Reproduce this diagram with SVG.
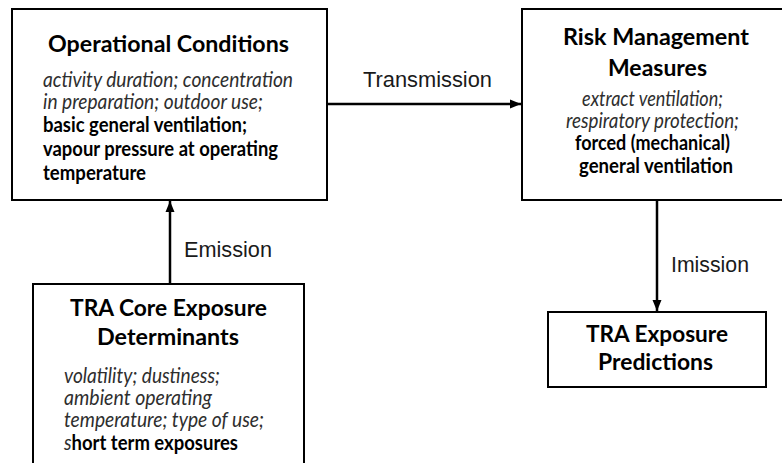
<svg xmlns="http://www.w3.org/2000/svg" width="782" height="463" viewBox="0 0 782 463">
<style>
.box{fill:#fff;stroke:#000;stroke-width:2}
.title{font-family:Lato,"Open Sans","Liberation Sans",sans-serif;font-weight:bold;font-size:23px;fill:#000}
.it{font-family:Lato,"Open Sans","Liberation Sans",sans-serif;font-style:italic;font-size:20.5px;fill:#2e2e2e}
.bd{font-family:Lato,"Open Sans","Liberation Sans",sans-serif;font-weight:bold;font-size:20px;fill:#000}
.lbl{font-family:"Liberation Sans",Arial,sans-serif;font-size:21.5px;fill:#1a1a1a}
.conn{stroke:#000;stroke-width:2.5;fill:none}
</style>
<defs>
<marker id="arr" markerUnits="userSpaceOnUse" markerWidth="12" markerHeight="12" viewBox="0 0 12 12" refX="11" refY="6" orient="auto">
<path d="M0,1.5 L11,6 L0,10.5 Z" fill="#000"/>
</marker>
</defs>
<rect width="782" height="463" fill="#fff"/>
<g id="connectors">
<line class="conn" x1="328" y1="104" x2="521" y2="104" marker-end="url(#arr)"/>
<line class="conn" x1="170" y1="284" x2="170" y2="201" marker-end="url(#arr)"/>
<line class="conn" x1="657" y1="200" x2="657" y2="311" marker-end="url(#arr)"/>
<text class="lbl" x="363" y="87" textLength="129" lengthAdjust="spacingAndGlyphs">Transmission</text>
<text class="lbl" x="184" y="257" textLength="88" lengthAdjust="spacingAndGlyphs">Emission</text>
<text class="lbl" x="671" y="272" textLength="78" lengthAdjust="spacingAndGlyphs">Imission</text>
</g>
<g id="operational-conditions">
<rect class="box" x="12" y="9" width="315" height="191"/>
<text class="title" x="48" y="52" textLength="241" lengthAdjust="spacingAndGlyphs">Operational Conditions</text>
<text class="it" x="43" y="87" textLength="250" lengthAdjust="spacingAndGlyphs">activity duration; concentration</text>
<text class="it" x="43" y="109" textLength="220" lengthAdjust="spacingAndGlyphs">in preparation; outdoor use;</text>
<text class="bd" x="43" y="132" textLength="204" lengthAdjust="spacingAndGlyphs">basic general ventilation;</text>
<text class="bd" x="43" y="156" textLength="235" lengthAdjust="spacingAndGlyphs">vapour pressure at operating</text>
<text class="bd" x="43" y="180" textLength="103" lengthAdjust="spacingAndGlyphs">temperature</text>
</g>
<g id="risk-management-measures">
<rect class="box" x="522" y="9" width="270" height="191"/>
<text class="title" x="563" y="45" textLength="186" lengthAdjust="spacingAndGlyphs">Risk Management</text>
<text class="title" x="608" y="76" textLength="99" lengthAdjust="spacingAndGlyphs">Measures</text>
<text class="it" x="582" y="106" textLength="141" lengthAdjust="spacingAndGlyphs">extract ventilation;</text>
<text class="it" x="566" y="128" textLength="173" lengthAdjust="spacingAndGlyphs">respiratory protection;</text>
<text class="bd" x="575" y="150" textLength="155" lengthAdjust="spacingAndGlyphs">forced (mechanical)</text>
<text class="bd" x="579" y="173" textLength="154" lengthAdjust="spacingAndGlyphs">general ventilation</text>
</g>
<g id="tra-core-exposure-determinants">
<rect class="box" x="33" y="284" width="271" height="200"/>
<text class="title" x="70" y="316" textLength="197" lengthAdjust="spacingAndGlyphs">TRA Core Exposure</text>
<text class="title" x="97" y="345" textLength="142" lengthAdjust="spacingAndGlyphs">Determinants</text>
<text class="it" x="64" y="383" textLength="156" lengthAdjust="spacingAndGlyphs">volatility; dustiness;</text>
<text class="it" x="64" y="405" textLength="148" lengthAdjust="spacingAndGlyphs">ambient operating</text>
<text class="it" x="64" y="427" textLength="200" lengthAdjust="spacingAndGlyphs">temperature; type of use;</text>
<text x="64" y="450" textLength="174" lengthAdjust="spacingAndGlyphs"><tspan class="it">s</tspan><tspan class="bd">hort term exposures</tspan></text>
</g>
<g id="tra-exposure-predictions">
<rect class="box" x="548" y="312" width="218" height="75"/>
<text class="title" x="586" y="342" textLength="142" lengthAdjust="spacingAndGlyphs">TRA Exposure</text>
<text class="title" x="598" y="370" textLength="115" lengthAdjust="spacingAndGlyphs">Predictions</text>
</g>
</svg>
